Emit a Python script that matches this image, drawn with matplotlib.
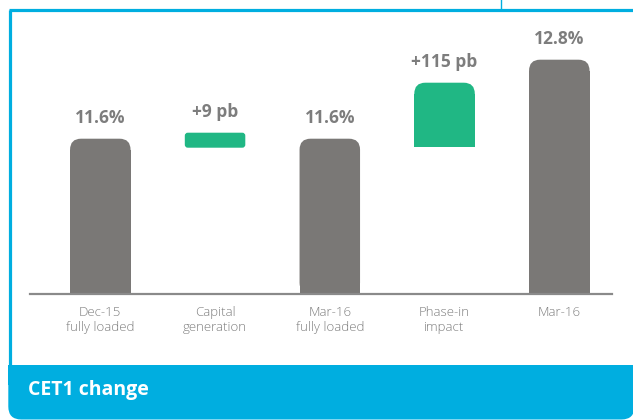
import numpy as np
import matplotlib
matplotlib.use("Agg")
import matplotlib.pyplot as plt
from matplotlib.patches import FancyBboxPatch, Rectangle

# data (bar heights in chart units above the baseline)
categories = ["Dec-15\nfully loaded", "Capital\ngeneration", "Mar-16\nfully loaded",
              "Phase-in\nimpact", "Mar-16"]
bar_labels = ["11.6%", "+9 pb", "11.6%", "+115 pb", "12.8%"]
bottoms = [0, 146, 0, 147, 0]
tops = [155, 161, 155, 211, 234]
is_delta = [False, True, False, True, False]

grey = "#7a7876"
green = "#20b784"
blue = "#00aee0"
text_grey = "#7d7d7d"

W, H = 633, 420
fig = plt.figure(figsize=(W / 100, H / 100), dpi=100)

# background layer in pixel coordinates for the frame and the banner
bg = fig.add_axes([0, 0, 1, 1])
bg.set_xlim(0, W)
bg.set_ylim(H, 0)
bg.axis("off")
bg.plot([9.5, 9.5], [9.5, 366], color=blue, lw=2.3, solid_capstyle="butt")
bg.plot([8.5, W], [9.5, 9.5], color=blue, lw=2.3, solid_capstyle="butt")
bg.plot([501, 501], [0, 9], color=blue, lw=1.0)
bg.add_patch(FancyBboxPatch((8.3, 365), W - 8.3 + 1.5, 54.5, boxstyle="round,pad=0,rounding_size=13",
                            fc=blue, ec="none"))
bg.add_patch(Rectangle((8.3, 365), W, 20, fc=blue, ec="none"))
bg.text(28, 390, "CET1 change", color="white", fontsize=14, fontweight="bold",
        family="Open Sans", va="center", ha="left")

# chart axes: x from 30 to 612 px, baseline at y=293.7 px
x0, x1 = 30, 612
base = 293.7
top_px = 20
ax = fig.add_axes([x0 / W, (H - base) / H, (x1 - x0) / W, (base - top_px) / H])
ax.patch.set_alpha(0)
step = 114.75
xs = np.arange(len(categories))
ax.set_xlim((x0 - 100.3) / step, (x1 - 100.3) / step)
ax.set_ylim(0, base - top_px)
for s in ["top", "right", "left"]:
    ax.spines[s].set_visible(False)
ax.spines["bottom"].set_color("#8a8a8a")
ax.spines["bottom"].set_linewidth(1.6)
ax.set_yticks([])
ax.set_xticks(xs)
ax.set_xticklabels(categories, fontsize=9.5, color=text_grey, family="Open Sans",
                   fontweight="light", linespacing=1.2)
ax.tick_params(axis="x", length=0, pad=9)

width = 60.5 / step
rx = 1.0 / step  # one pixel in x data units
for i in range(len(categories)):
    b, t = bottoms[i], tops[i]
    h = t - b
    color = green if is_delta[i] else grey
    r = 3 if h < 20 else 11
    left = xs[i] - width / 2
    p = FancyBboxPatch((left, b), width, h,
                       boxstyle=f"round,pad=0,rounding_size={r * rx}",
                       mutation_aspect=1 / rx, fc=color, ec="none")
    ax.add_patch(p)
    if h >= 20:
        ax.add_patch(Rectangle((left, b), width, h - r, fc=color, ec="none"))
    ax.text(xs[i], t + 12, bar_labels[i], ha="center", va="bottom", fontsize=12.5,
            fontweight="bold", color=text_grey, family="Open Sans")

fig.savefig("out.png", dpi=100)
